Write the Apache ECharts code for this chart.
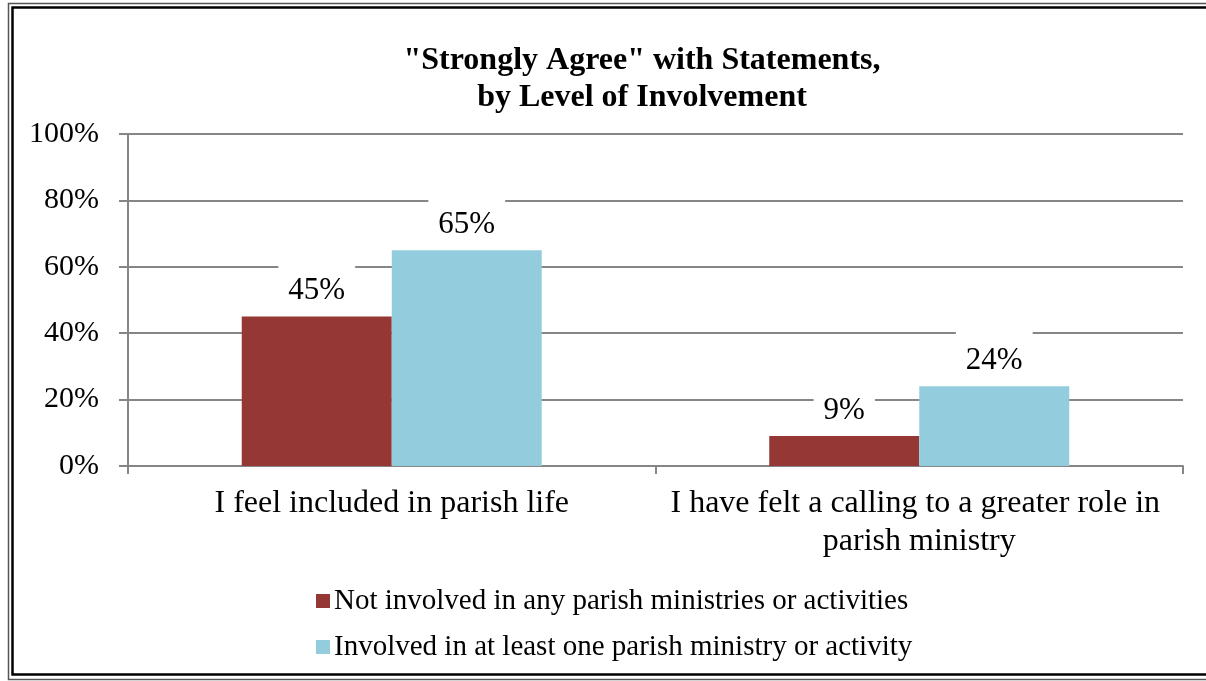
<!DOCTYPE html>
<html>
<head>
<meta charset="utf-8">
<script src="https://cdn.jsdelivr.net/npm/echarts@6/dist/echarts.min.js"></script>
<style>
  html, body { margin: 0; padding: 0; background: #fff; }
  #chart { width: 1206px; height: 681px; }
</style>
</head>
<body>
<div id="chart"></div>
<script>
// Statements and share answering "Strongly Agree", by involvement group
const categories = [
  'I feel included in parish life',
  'I have felt a calling to a greater role in parish ministry'
];
const seriesNames = [
  'Not involved in any parish ministries or activities',
  'Involved in at least one parish ministry or activity'
];
const notInvolved = [45, 9];
const involved = [65, 24];
const yTicks = [0, 20, 40, 60, 80, 100];

const serif = '"Liberation Serif", "Times New Roman", serif';
const gridColor = '#868686';

const chart = echarts.init(document.getElementById('chart'), null, { renderer: 'canvas' });

const labelStyle = {
  show: true,
  position: 'top',
  distance: 7,
  formatter: p => p.value + '%',
  fontFamily: serif,
  fontSize: 31,
  color: '#000',
  backgroundColor: '#fff',
  padding: [15, 10, 3, 10]
};

chart.setOption({
  animation: false,
  title: {
    text: '"Strongly Agree" with Statements,\nby Level of Involvement',
    left: 637,
    top: 37,
    textAlign: 'center',
    textStyle: {
      fontFamily: serif,
      fontWeight: 'bold',
      fontSize: 32,
      lineHeight: 37,
      color: '#000'
    }
  },
  legend: {
    orient: 'vertical',
    left: 311,
    top: 580,
    itemWidth: 14,
    itemHeight: 14,
    itemGap: 14,
    icon: 'rect',
    data: seriesNames,
    textStyle: { fontFamily: serif, fontSize: 29, lineHeight: 32, color: '#000', padding: [0, 0, 0, -1] }
  },
  grid: { left: 128, right: 23, top: 134, bottom: 215 },
  xAxis: {
    type: 'category',
    data: categories,
    axisLine: { lineStyle: { color: gridColor, width: 2 } },
    axisTick: { show: true, length: 8, lineStyle: { color: gridColor, width: 2 } },
    axisLabel: {
      fontFamily: serif,
      fontSize: 32,
      lineHeight: 38,
      color: '#000',
      margin: 19,
      width: 510,
      overflow: 'break',
      interval: 0
    }
  },
  yAxis: {
    type: 'value',
    min: 0,
    max: 100,
    interval: 20,
    axisLine: { show: true, lineStyle: { color: gridColor, width: 2 } },
    axisTick: { show: true, length: 9, lineStyle: { color: gridColor, width: 2 } },
    splitLine: { lineStyle: { color: gridColor, width: 2 } },
    axisLabel: {
      fontFamily: serif,
      fontSize: 30,
      color: '#000',
      margin: 29,
      formatter: v => yTicks.includes(v) ? v + '%' : ''
    }
  },
  series: [
    {
      name: seriesNames[0],
      type: 'bar',
      data: notInvolved,
      barWidth: 150,
      barGap: '0%',
      itemStyle: { color: '#953735' },
      label: labelStyle
    },
    {
      name: seriesNames[1],
      type: 'bar',
      data: involved,
      barWidth: 150,
      barGap: '0%',
      itemStyle: { color: '#93CDDD' },
      label: labelStyle
    }
  ],
  graphic: [
    {
      type: 'rect',
      shape: { x: 8.5, y: 3.5, width: 1220, height: 676 },
      style: { fill: 'none', stroke: '#555', lineWidth: 1.5 },
      silent: true
    },
    {
      type: 'rect',
      shape: { x: 12.5, y: 7.5, width: 1220, height: 667 },
      style: { fill: 'none', stroke: '#000', lineWidth: 2.5 },
      silent: true
    }
  ]
});
</script>
</body>
</html>
